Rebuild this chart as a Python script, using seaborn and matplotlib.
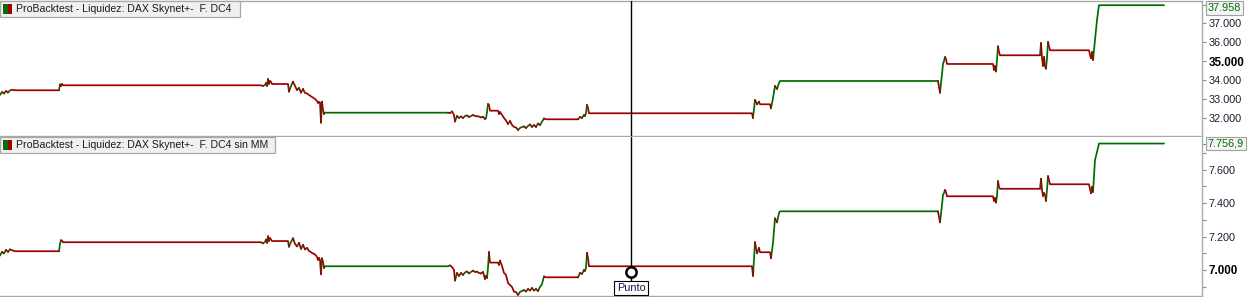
import numpy as np
import pandas as pd
import matplotlib
matplotlib.use("Agg")
import matplotlib.pyplot as plt
import matplotlib.transforms as mtrans
from matplotlib.patches import Rectangle
import seaborn as sns

# ---------------- data ----------------
bars = [0, 2, 4, 6, 8, 10, 12, 15,
        59, 60, 61, 62, 63,
        261, 263, 265, 266, 267, 268, 269, 270, 271, 272,
        288, 289, 291, 293, 295, 297, 299, 301, 303, 305, 307, 309, 312, 315, 317, 318, 319, 320, 321, 322, 323, 324, 325,
        448, 450, 452, 454, 455, 457, 459, 461, 463, 465, 467, 469, 471, 473, 475, 477, 479, 481, 483, 485, 486, 487, 488, 489, 490,
        498, 499, 500, 502, 504, 506, 508, 510, 512, 514, 516, 518, 520, 522, 524, 526, 528, 530, 532, 534, 536, 538, 540, 542, 544, 546,
        578, 580, 582, 584, 585, 586, 587, 588, 589,
        752, 753, 755, 757, 759, 760,
        770, 771, 773, 775, 777, 779, 780,
        938, 940, 942, 943, 944, 945, 946, 947,
        993, 994, 995, 996, 997, 998, 999, 1000,
        1040, 1041, 1042, 1043, 1044, 1045, 1046, 1047, 1048, 1050,
        1089, 1090, 1091, 1092, 1093, 1095, 1097, 1099,
        1164]

equity_dc4 = [33202, 33361, 33282, 33414, 33335, 33441, 33480, 33451,
              33451, 33759, 33679, 33785, 33716,
              33716, 33679, 33732, 33838, 33679, 34050, 33785, 33944, 33891, 33785,
              33785, 33377, 33679, 33907, 33679, 33467, 33573, 33324, 33520, 33308, 33282, 33202, 33096, 32991, 32885, 32779, 32832, 32805, 31735, 32848, 32408, 32196, 32265,
              32265, 32249, 32328, 32143, 31799, 32090, 31984, 32064, 31984, 32090, 32117, 32037, 32090, 32143, 32090, 32074, 32064, 32011, 32053, 31931, 31958, 32302, 32726, 32673, 32371,
              32371, 32196, 32302, 32143, 31984, 31852, 31666, 31825, 31613, 31507, 31481, 31348, 31454, 31507, 31534, 31454, 31560, 31640, 31507, 31613, 31507, 31693, 31613, 31788, 31958, 31915,
              31915, 32037, 31984, 32143, 32090, 32249, 32673, 32514, 32233,
              32233, 31984, 32938, 32710, 32848, 32710,
              32710, 32498, 33044, 33679, 33520, 33838, 33944,
              33944, 33324, 34315, 34845, 35003, 35215, 35109, 34845,
              34845, 34527, 34739, 34447, 35056, 35782, 35480, 35305,
              35305, 35957, 35162, 34739, 35215, 34739, 34596, 35162, 36010, 35570,
              35570, 35321, 35146, 35480, 35056, 36116, 37175, 37958,
              37958]

equity_dc4_sin_mm = [7086, 7108, 7099, 7120, 7108, 7123, 7118, 7112,
                     7112, 7156, 7178, 7176, 7166,
                     7166, 7159, 7168, 7182, 7162, 7202, 7173, 7191, 7182, 7173,
                     7173, 7139, 7168, 7190, 7156, 7141, 7162, 7126, 7150, 7123, 7132, 7114, 7102, 7093, 7078, 7060, 7072, 7060, 6974, 7070, 7048, 7012, 7022,
                     7022, 7027, 7018, 7000, 6936, 6982, 6964, 6982, 6970, 6985, 6991, 6979, 6988, 6996, 6988, 6990, 6982, 6979, 6988, 6946, 6964, 6952, 7012, 7108, 7044,
                     7044, 7030, 7056, 7024, 6982, 6970, 6922, 6910, 6898, 6870, 6868, 6850, 6868, 6874, 6880, 6871, 6886, 6877, 6892, 6877, 6886, 6874, 6898, 6916, 6961, 6956,
                     6956, 6982, 6976, 7000, 6994, 7012, 7103, 7072, 7022,
                     7022, 6964, 7166, 7100, 7132, 7106,
                     7106, 7070, 7162, 7309, 7285, 7341, 7351,
                     7351, 7285, 7389, 7449, 7461, 7479, 7467, 7441,
                     7441, 7413, 7431, 7403, 7443, 7532, 7497, 7486,
                     7486, 7546, 7479, 7443, 7461, 7449, 7413, 7479, 7562, 7513,
                     7513, 7485, 7459, 7497, 7467, 7658, 7706, 7756.9,
                     7756.9]

titles = ["ProBacktest - Liquidez: DAX Skynet+-  F. DC4",
          "ProBacktest - Liquidez: DAX Skynet+-  F. DC4 sin MM"]
top_ticks = [32000, 33000, 34000, 35000, 36000, 37000]
top_tick_labels = ["32.000", "33.000", "34.000", "35.000", "36.000", "37.000"]
bottom_ticks = [7000, 7200, 7400, 7600]
bottom_tick_labels = ["7.000", "7.200", "7.400", "7.600"]
bottom_minor_ticks = [6900, 7100, 7300, 7500, 7700, 7756.9]
last_value_labels = ["37.958", "7.756,9"]
cursor_bar = 631
cursor_value = 6988
cursor_label = "Punto"

GREEN = "#006b00"
RED = "#9c0000"
GREY = "#a9a9a9"
TICKTXT = "#1c1c30"

sns.set_theme(style="white")
plt.rcParams['font.family'] = ['Liberation Sans', 'DejaVu Sans']


def runs_frame(x, y):
    y = np.asarray(y, dtype=float)
    d = np.sign(np.diff(y))
    cur = 1.0
    dirs = []
    for v in d:
        if v != 0:
            cur = v
        dirs.append(cur)
    rows = []
    run = 0
    start = 0
    n = len(dirs)
    for i in range(1, n + 1):
        if i == n or dirs[i] != dirs[start]:
            lab = "up" if dirs[start] > 0 else "down"
            for j in range(start, i + 1):
                rows.append((x[j], y[j], run, lab))
            run += 1
            start = i
    return pd.DataFrame(rows, columns=["bar", "value", "run", "dir"])


W, H = 1254, 297
fig = plt.figure(figsize=(W / 100, H / 100), dpi=100)
plot_w = 1202 / W
ax1 = fig.add_axes([0, 1 - 136 / H, plot_w, 135 / H])
ax2 = fig.add_axes([0, 1 - 296 / H, plot_w, 159 / H])

panels = [(ax1, equity_dc4, (31030, 38180)), (ax2, equity_dc4_sin_mm, (6844, 7796))]
for ax, eq, ylim in panels:
    df = runs_frame(bars, eq)
    sns.lineplot(data=df, x="bar", y="value", hue="dir", units="run", estimator=None,
                 sort=False, palette={"up": GREEN, "down": RED}, legend=False,
                 linewidth=1.25, ax=ax)
    ax.set_xlim(0, 1202)
    ax.set_ylim(*ylim)
    ax.set_xlabel("")
    ax.set_ylabel("")
    ax.set_xticks([])
    ax.yaxis.tick_right()
    ax.set_facecolor("white")
    ax.spines["left"].set_visible(False)
    for s in ["right", "top", "bottom"]:
        ax.spines[s].set_color(GREY)
        ax.spines[s].set_linewidth(1.0)
    ax.tick_params(axis="y", which="both", direction="out", length=3, width=0.8,
                   color="#8a8a8a", labelsize=7.8, labelcolor=TICKTXT, pad=2)
    ax.axvline(cursor_bar, color="black", lw=1.0, zorder=4)

ax2.spines["top"].set_visible(False)

ax1.set_yticks(top_ticks)
ax1.set_yticklabels(top_tick_labels)
ax2.set_yticks(bottom_ticks)
ax2.set_yticklabels(bottom_tick_labels)
ax2.set_yticks(bottom_minor_ticks, minor=True)
ax1.set_yticks([equity_dc4[-1]], minor=True)
for ax, bold in [(ax1, "35.000"), (ax2, "7.000")]:
    for t in ax.get_yticklabels():
        if t.get_text() == bold:
            t.set_fontweight("bold")
            t.set_fontsize(8.4)
            t.set_color("black")

# last value boxes
box = dict(boxstyle="square,pad=0.18", fc="#f4f4f4", ec="#a0a0a0", lw=0.8)
ax1.text(1 + 6 / 1202, 0.985, last_value_labels[0], transform=ax1.transAxes,
         ha="left", va="top", fontsize=7.8, color=GREEN, bbox=box, clip_on=False)
tr2 = mtrans.blended_transform_factory(ax2.transAxes, ax2.transData)
ax2.text(1 + 6 / 1202, equity_dc4_sin_mm[-1], last_value_labels[1], transform=tr2,
         ha="left", va="center", fontsize=7.8, color=GREEN, bbox=box, clip_on=False)


def px_rect(x0, y0, x1, y1, **kw):
    r = Rectangle((x0 / W, 1 - y1 / H), (x1 - x0) / W, (y1 - y0) / H,
                  transform=fig.transFigure, **kw)
    fig.add_artist(r)


for (y0, y1, x1), title in zip([(1, 17, 240), (137, 153, 275)], titles):
    px_rect(0, y0, x1, y1, fc="#f0f0f0", ec="#a8a8a8", lw=0.9, zorder=6)
    px_rect(3, y0 + 3, 7.5, y1 - 3, fc="#0b6b0b", ec="none", zorder=7)
    px_rect(7.5, y0 + 3, 12, y1 - 3, fc="#a00000", ec="none", zorder=7)
    fig.text(16 / W, 1 - ((y0 + y1) / 2 + 0.5) / H, title, ha="left", va="center",
             fontsize=7.55, color="#1c1c1c", zorder=8)

# cursor point
sns.scatterplot(x=[cursor_bar], y=[cursor_value], s=55, color="white",
                edgecolor="black", linewidth=1.8, zorder=6, ax=ax2, legend=False)
ax2.annotate(cursor_label, xy=(cursor_bar, cursor_value), xytext=(0, -11.5),
             textcoords="offset points", ha="center", va="center", fontsize=7.8,
             color="#141450", zorder=7,
             bbox=dict(boxstyle="square,pad=0.2", fc="white", ec="black", lw=0.8))

fig.savefig("out.png", dpi=100)
